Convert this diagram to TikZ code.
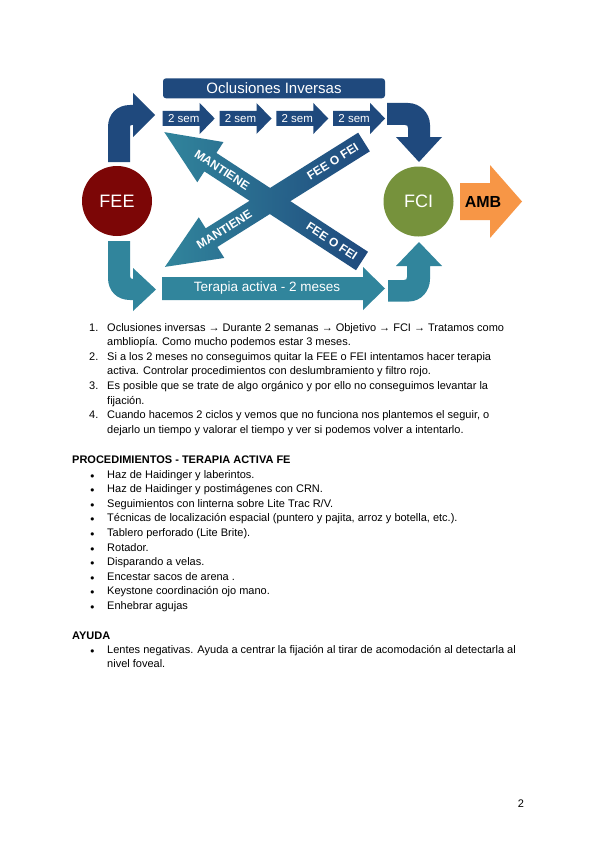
\documentclass[tikz,border=0pt]{standalone}
\usepackage{fontspec}
\setmainfont{Liberation Sans}
\usetikzlibrary{positioning}
\definecolor{navy}{RGB}{31,73,125}
\definecolor{tealb}{RGB}{49,133,156}
\definecolor{feered}{RGB}{124,6,6}
\definecolor{fcigreen}{RGB}{118,146,60}
\definecolor{ambor}{RGB}{247,150,70}
\tikzset{
  txt/.style={anchor=base west, inner sep=0pt, font=\fontsize{11}{13}\selectfont},
  dot/.style={anchor=base west, inner sep=0pt, font=\fontsize{7.5}{8}\selectfont},
  wlabel/.style={text=white, inner sep=0pt},
  xlabel/.style={text=white, inner sep=0pt, font=\bfseries\fontsize{12}{12}\selectfont, rotate=180, transform shape}
}

\begin{document}
\begin{tikzpicture}[x=1pt, y=-1pt]
  \fill[white] (0,0) rectangle (600,848);
  \useasboundingbox (0,0) rectangle (600,848);

  % cross arrows
  \begin{scope}[shift={(364,142)}, rotate=212.1]
    \path[left color=tealb, right color=navy] (0,-11) -- (180,-11) -- (180,-24) -- (235,0) -- (180,24) -- (180,11) -- (0,11) -- cycle;
    \node[xlabel] (fei2) at (37,0) {FEE O FEI};
    \node[xlabel] (man2) at (165,0) {MANTIENE};
  \end{scope}
  \begin{scope}[shift={(362,261)}, rotate=146.9]
    \path[left color=tealb, right color=navy] (0,-11) -- (181,-11) -- (181,-24) -- (236,0) -- (181,24) -- (181,11) -- (0,11) -- cycle;
    \node[xlabel] (fei1) at (36,0) {FEE O FEI};
    \node[xlabel] (man1) at (167,0) {MANTIENE};
  \end{scope}

  % circles
  \node[circle, fill=feered, minimum size=70pt, text=white, font=\fontsize{18}{18}\selectfont] (fee) at (117,201) {FEE};
  \node[circle, fill=fcigreen, minimum size=70pt, text=white, font=\fontsize{18}{18}\selectfont] (fci) at (418.5,201.5) {FCI};

  % top row
  \node[fill=navy, rounded corners=3pt, minimum width=222pt, minimum height=20pt, wlabel, font=\fontsize{15}{15}\selectfont] (ocl) at (274,88.3) {Oclusiones Inversas};
  \foreach \s [count=\i] in {162.7,219.5,276.3,333.1} {
    \fill[navy] (\s,111) -- ++(37,0) -- ++(0,-8) -- ++(15,15.5) -- ++(-15,15.5) -- ++(0,-8) -- ++(-37,0) -- cycle;
    \node[wlabel, font=\fontsize{11.5}{11.5}\selectfont] (sem\i) at ({\s+21},118.5) {2 sem};
  }
  \fill[navy] (108,162) -- (108,127) .. controls (108,114) and (117,105) .. (130,105) -- (133,105) -- (133,93) -- (155,115) -- (133,137) -- (133,125) -- (132,125) .. controls (130.6,125) and (130,125.6) .. (130,127) -- (130,162) -- cycle;
  \fill[navy] (387,103) -- (408,103) .. controls (420,103) and (430,113) .. (430,125) -- (430,137) -- (442,137) -- (419,162) -- (396,137) -- (408,137) -- (408,128) .. controls (408,126) and (407,125) .. (405,125) -- (387,125) -- cycle;

  % bottom row
  \fill[tealb] (162,277) -- (363,277) -- (363,267) -- (385,288.5) -- (363,310) -- (363,300) -- (162,300) -- cycle;
  \node[wlabel, font=\fontsize{13.5}{13.5}\selectfont] (ter) at (267,288.5) {Terapia activa - 2 meses};
  \fill[tealb] (108,241) -- (130,241) -- (130,276) .. controls (130,278) and (131,279) .. (133,279) -- (133,268) -- (156,289.5) -- (133,311) -- (133,300) -- (130,300) .. controls (117,300) and (108,291) .. (108,278) -- cycle;
  \fill[tealb] (388,280) -- (404,280) .. controls (406,280) and (407,279) .. (407,277) -- (407,266) -- (396,266) -- (419,242) -- (442,266) -- (430,266) -- (430,279) .. controls (430,291) and (421,301.5) .. (409,301.5) -- (388,301.5) -- cycle;

  % AMB
  \fill[ambor] (460,183) -- (490,183) -- (490,165) -- (522,201.5) -- (490,238) -- (490,220) -- (460,220) -- cycle;
  \node[inner sep=0pt, font=\bfseries\fontsize{16}{16}\selectfont] (amb) at (483,201.5) {AMB};

  % numbered list
  \foreach \n [count=\i from 0] in {1,2,3,4}
    \node[txt] (num\n) at (89,{331+29.2*\i}) {\n.};
  \foreach \t [count=\i from 0] in {
    {Oclusiones inversas → Durante 2 semanas → Objetivo → FCI → Tratamos como},
    {ambliopía. Como mucho podemos estar 3 meses.},
    {Si a los 2 meses no conseguimos quitar la FEE o FEI intentamos hacer terapia},
    {activa. Controlar procedimientos con deslumbramiento y filtro rojo.},
    {Es posible que se trate de algo orgánico y por ello no conseguimos levantar la},
    {fijación.},
    {Cuando hacemos 2 ciclos y vemos que no funciona nos plantemos el seguir, o},
    {dejarlo un tiempo y valorar el tiempo y ver si podemos volver a intentarlo.}}
    \node[txt] (ln\i) at (107,{331+14.6*\i}) {\t};

  % procedimientos
  \node[txt, font=\bfseries\fontsize{11}{13}\selectfont] (proc) at (72,463) {PROCEDIMIENTOS - TERAPIA ACTIVA FE};
  \foreach \t [count=\i from 0] in {
    {Haz de Haidinger y laberintos.},
    {Haz de Haidinger y postimágenes con CRN.},
    {Seguimientos con linterna sobre Lite Trac R/V.},
    {Técnicas de localización espacial (puntero y pajita, arroz y botella, etc.).},
    {Tablero perforado (Lite Brite).},
    {Rotador.},
    {Disparando a velas.},
    {Encestar sacos de arena .},
    {Keystone coordinación ojo mano.},
    {Enhebrar agujas}} {
    \node[dot] (pb\i) at (90,{478+14.6*\i}) {●};
    \node[txt] (pt\i) at (107,{478+14.6*\i}) {\t};
  }

  % ayuda
  \node[txt, font=\bfseries\fontsize{11}{13}\selectfont] (ayuda) at (72,639) {AYUDA};
  \node[dot] (ab) at (90,653) {●};
  \node[txt] (at1) at (107,653) {Lentes negativas. Ayuda a centrar la fijación al tirar de acomodación al detectarla al};
  \node[txt] (at2) at (107,667.6) {nivel foveal.};

  \node[txt, anchor=base] (pag) at (521,807) {2};
\end{tikzpicture}
\end{document}
